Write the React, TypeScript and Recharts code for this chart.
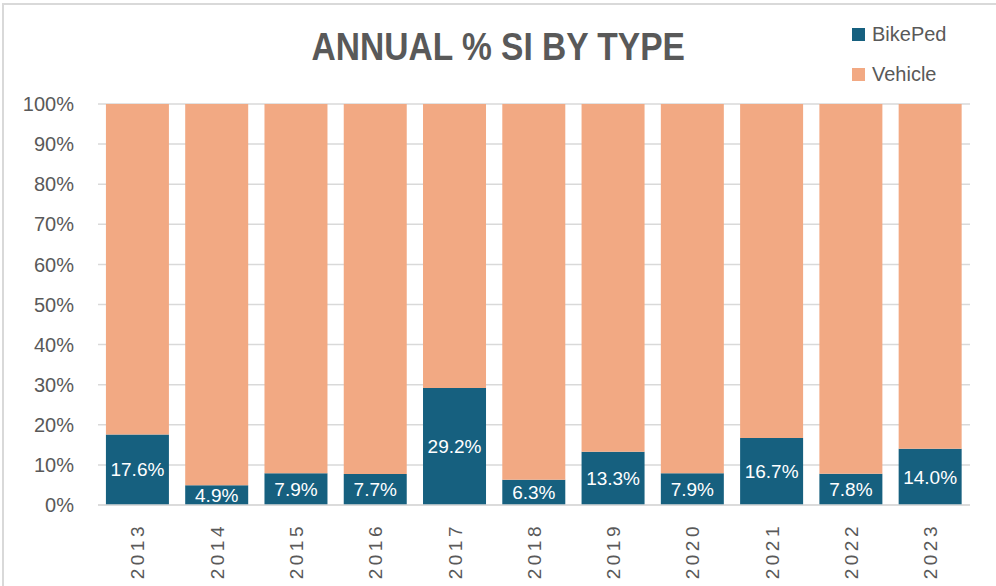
import { Bar, BarChart, XAxis, YAxis, CartesianGrid, Legend, LabelList } from 'recharts'

// values
const years = ['2013', '2014', '2015', '2016', '2017', '2018', '2019', '2020', '2021', '2022', '2023']
const bikePed = [17.6, 4.9, 7.9, 7.7, 29.2, 6.3, 13.3, 7.9, 16.7, 7.8, 14.0]
const vehicle = [82.4, 95.1, 92.1, 92.3, 70.8, 93.7, 86.7, 92.1, 83.3, 92.2, 86.0]
const yTicks = [0, 10, 20, 30, 40, 50, 60, 70, 80, 90, 100]

const BLUE = '#16607f'
const PEACH = '#f2a983'
const GREY_TEXT = '#595959'
const GRID = '#d9d9d9'
const FONT = '"Liberation Sans", Arial, sans-serif'

const chartData = years.map((year, i) => ({
  year,
  BikePed: bikePed[i],
  Vehicle: vehicle[i],
}))

const YearTick = (props: any) => {
  const { x, y, payload } = props
  return (
    <g transform={`translate(${x},${y + 10}) rotate(-90)`}>
      <text
        x={0}
        y={0}
        dy="0.36em"
        textAnchor="end"
        fill={GREY_TEXT}
        fontSize={19}
        fontFamily={FONT}
        letterSpacing={3.5}
      >
        {payload.value}
      </text>
    </g>
  )
}

const LegendBox = () => {
  const items = [
    { name: 'BikePed', color: BLUE },
    { name: 'Vehicle', color: PEACH },
  ]
  return (
    <div style={{ fontFamily: FONT }}>
      {items.map((it) => (
        <div key={it.name} style={{ display: 'flex', alignItems: 'center', height: 40 }}>
          <span style={{ width: 13, height: 13, background: it.color, display: 'inline-block', marginRight: 7 }} />
          <span style={{ fontSize: 20, color: GREY_TEXT }}>{it.name}</span>
        </div>
      ))}
    </div>
  )
}

export default function App() {
  return (
    <div style={{ position: 'absolute', left: 0, top: 0, width: 996, height: 586, background: '#fff' }}>
      <div
        style={{
          position: 'absolute',
          left: 2,
          top: 3,
          right: 0,
          bottom: 0,
          borderTop: `2px solid ${GRID}`,
          borderLeft: `2px solid ${GRID}`,
        }}
      />
      <div
        style={{
          position: 'absolute',
          left: 0,
          top: 22,
          width: 996,
          textAlign: 'center',
          fontFamily: FONT,
          fontWeight: 'bold',
          fontSize: 39,
          color: GREY_TEXT,
          lineHeight: '50px',
          transform: 'scaleX(0.86)',
          transformOrigin: '500px 0',
        }}
      >
        ANNUAL % SI BY TYPE
      </div>
      <BarChart
        width={996}
        height={586}
        data={chartData}
        margin={{ top: 104, right: 26, left: 0, bottom: 6 }}
        barCategoryGap="10%"
        style={{ position: 'absolute', left: 0, top: 0 }}
      >
        <CartesianGrid vertical={false} stroke={GRID} strokeWidth={1.5} />
        <XAxis
          dataKey="year"
          interval={0}
          height={75}
          tickLine={false}
          axisLine={{ stroke: GRID, strokeWidth: 1.5 }}
          tick={<YearTick />}
        />
        <YAxis
          width={98}
          domain={[0, 100]}
          ticks={yTicks}
          tickFormatter={(v: number) => `${v}%`}
          axisLine={false}
          tickLine={false}
          tickSize={0}
          tickMargin={24}
          tick={{ fill: GREY_TEXT, fontSize: 20, fontFamily: FONT }}
        />
        <Legend
          layout="vertical"
          align="center"
          verticalAlign="middle"
          content={<LegendBox />}
          wrapperStyle={{ top: 14, left: 852, width: 130, height: 80 }}
        />
        <Bar dataKey="BikePed" stackId="a" fill={BLUE} isAnimationActive={false}>
          <LabelList
            dataKey="BikePed"
            position="center"
            fill="#ffffff"
            fontSize={19}
            fontFamily={FONT}
            formatter={(v: any) => `${Number(v).toFixed(1)}%`}
          />
        </Bar>
        <Bar dataKey="Vehicle" stackId="a" fill={PEACH} isAnimationActive={false} />
      </BarChart>
    </div>
  )
}
